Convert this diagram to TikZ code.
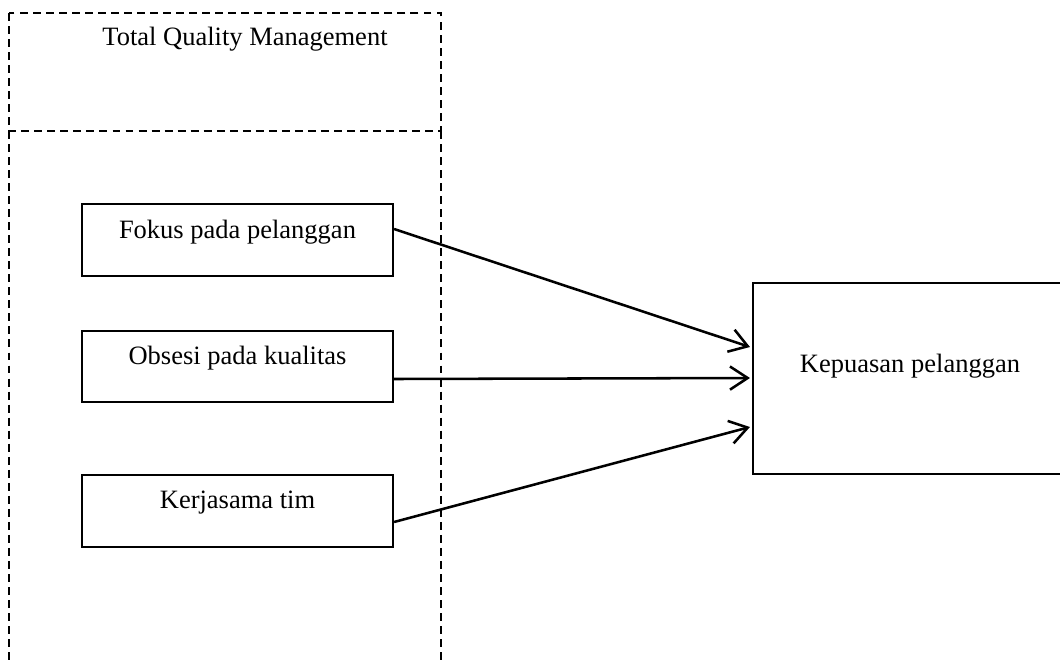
\documentclass[tikz,border=0pt]{standalone}
\usepackage{fontspec}
\setmainfont{Liberation Serif}
\usetikzlibrary{arrows.meta,calc}
\begin{document}
\begin{tikzpicture}[x=0.4528pt,y=-0.4528pt,
  solidbox/.style={draw,line width=0.95pt,rectangle,inner sep=0pt},
  dashline/.style={line width=0.8pt,dash pattern=on 3.6pt off 2.3pt},
  lbl/.style={font=\fontsize{12pt}{14pt}\selectfont,inner sep=0pt},
  conn/.style={line width=1.15pt,-{Straight Barb[length=8pt,width=10.5pt,line width=1.15pt]}}]
\useasboundingbox (0,0) rectangle (1060,664);
% TQM dashed frame
\draw[dashline] (9,13) rectangle (441,131);
\draw[dashline] (9,131) -- (9,670);
\draw[dashline] (441,131) -- (441,670);
\node[lbl] (tqm) at (245,39) {Total Quality Management};
% left boxes
\node[solidbox,minimum width=311*0.4528pt,minimum height=72*0.4528pt] (f1) at (237.5,240) {};
\node[lbl] (t1) at (237.5,232) {Fokus pada pelanggan};
\node[solidbox,minimum width=311*0.4528pt,minimum height=71*0.4528pt] (f2) at (237.5,366.5) {};
\node[lbl] (t2) at (237.5,358) {Obsesi pada kualitas};
\node[solidbox,minimum width=311*0.4528pt,minimum height=72*0.4528pt] (f3) at (237.5,511) {};
\node[lbl] (t3) at (237.5,503) {Kerjasama tim};
% right box (right edge lies outside the picture)
\node[solidbox,minimum width=330*0.4528pt,minimum height=191*0.4528pt] (k) at (918,378.5) {};
\node[lbl] (tk) at (910,366) {Kepuasan pelanggan};
% connectors
\draw[conn] ($(f1.east)+(0,-11)$) -- ($(k.west)+(-2,-31.5)$);
\draw[conn] ($(f2.east)+(0,12.5)$) -- ($(k.west)+(-2,-0.5)$);
\draw[conn] ($(f3.east)+(0,11)$) -- ($(k.west)+(-2,48.5)$);
\end{tikzpicture}
\end{document}
